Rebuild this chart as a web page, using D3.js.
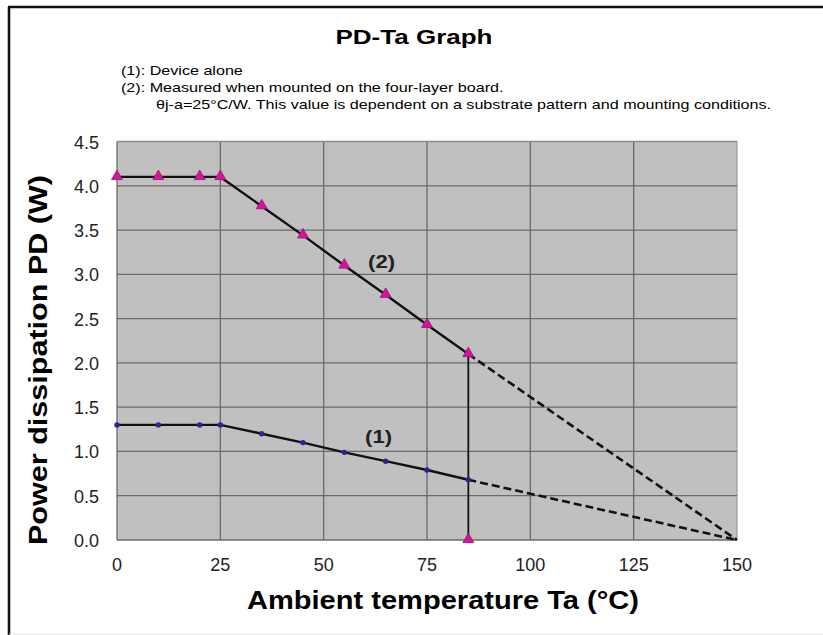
<!DOCTYPE html>
<html>
<head>
<meta charset="utf-8">
<script src="https://cdn.jsdelivr.net/npm/d3@7"></script>
<style>
  body { margin: 0; background: #fff; }
  text { font-family: Arial, "Liberation Sans", sans-serif; }
</style>
</head>
<body>
<svg id="chart" width="823" height="635"></svg>
<script>
// temperatures (°C) where the points sit
const ta = [0, 10, 20, 25, 35, 45, 55, 65, 75, 85];
// (2) four-layer board
const pd2 = [4.1, 4.1, 4.1, 4.1, 3.77, 3.44, 3.1, 2.77, 2.43, 2.1];
// (1) device alone
const pd1 = [1.3, 1.3, 1.3, 1.3, 1.2, 1.1, 0.99, 0.89, 0.79, 0.68];
// dashed derating to zero
const taEnd = [85, 150];
const pd2End = [2.1, 0];
const pd1End = [0.68, 0];
// marker at (85, 0) and the vertical line up to it
const markTa = 85;
const markPd = 0;

const xTicks = [0, 25, 50, 75, 100, 125, 150];
const yTicks = [0, 0.5, 1, 1.5, 2, 2.5, 3, 3.5, 4, 4.5];

const notes = [
  '(1): Device alone',
  '(2): Measured when mounted on the four-layer board.',
  '\u03b8j-a=25\u00b0C/W. This value is dependent on a substrate pattern and mounting conditions.'
];

const svg = d3.select('#chart');

const x = d3.scaleLinear().domain([0, 150]).range([117, 737]);
const y = d3.scaleLinear().domain([0, 4.5]).range([540, 141.5]);

// outer frame (left and top only)
svg.append('line').attr('x1', 9).attr('y1', 7).attr('x2', 9).attr('y2', 635)
  .attr('stroke', '#111').attr('stroke-width', 2.6);
svg.append('line').attr('x1', 8).attr('y1', 7).attr('x2', 823).attr('y2', 7)
  .attr('stroke', '#111').attr('stroke-width', 2.6);
svg.append('line').attr('x1', 9).attr('y1', 634).attr('x2', 823).attr('y2', 634)
  .attr('stroke', '#e4e4e4').attr('stroke-width', 1);

// fit a text to a given width (the source font is wider than Arial)
function fit(sel, w) {
  sel.attr('textLength', w).attr('lengthAdjust', 'spacingAndGlyphs');
}
function stretch(sel, k) {
  sel.each(function() {
    const w = this.getComputedTextLength();
    d3.select(this).attr('textLength', w * k).attr('lengthAdjust', 'spacingAndGlyphs');
  });
}

// title + notes
svg.append('text').attr('x', 414).attr('y', 44).attr('text-anchor', 'middle')
  .attr('font-size', 21).attr('font-weight', 'bold').text('PD-Ta Graph')
  .call(fit, 157);

const noteText = svg.selectAll('.note').data(notes).enter().append('text')
  .attr('class', 'note')
  .attr('x', (d, i) => i === 2 ? 156 : 121)
  .attr('y', (d, i) => 75 + i * 17)
  .attr('font-size', 13.5)
  .text(d => d);
const noteK = 615 / noteText.filter((d, i) => i === 2).node().getComputedTextLength();
noteText.call(stretch, noteK);

// plot background
svg.append('rect')
  .attr('x', x(0)).attr('y', y(4.5))
  .attr('width', x(150) - x(0)).attr('height', y(0) - y(4.5))
  .attr('fill', '#c0c0c0');

// grid
svg.append('g').selectAll('line').data(xTicks).enter().append('line')
  .attr('x1', d => x(d)).attr('x2', d => x(d))
  .attr('y1', y(4.5)).attr('y2', y(0))
  .attr('stroke', d => d === 150 ? '#a0a0a0' : '#6a6a6a').attr('stroke-width', 1.3);
svg.append('g').selectAll('line').data(yTicks).enter().append('line')
  .attr('x1', x(0)).attr('x2', x(150))
  .attr('y1', d => y(d)).attr('y2', d => y(d))
  .attr('stroke', d => d === 4.5 ? '#8c8c8c' : '#6a6a6a').attr('stroke-width', 1.3);

// tick labels
svg.append('g').selectAll('text').data(yTicks).enter().append('text')
  .attr('x', 99).attr('y', d => y(d) + 7)
  .attr('text-anchor', 'end').attr('font-size', 18).attr('fill', '#222')
  .text(d => d3.format('.1f')(d));
svg.append('g').selectAll('text').data(xTicks).enter().append('text')
  .attr('x', d => x(d)).attr('y', 571)
  .attr('text-anchor', 'middle').attr('font-size', 18).attr('fill', '#222')
  .text(d => d);

// axis titles
svg.append('text').attr('x', 443).attr('y', 609).attr('text-anchor', 'middle')
  .attr('font-size', 25).attr('font-weight', 'bold')
  .text('Ambient temperature Ta (\u00b0C)')
  .call(fit, 392);
svg.append('text')
  .attr('transform', 'translate(47,360) rotate(-90)')
  .attr('text-anchor', 'middle')
  .attr('font-size', 26).attr('font-weight', 'bold')
  .text('Power dissipation PD (W)')
  .call(fit, 370);

const line = d3.line().x(d => x(d[0])).y(d => y(d[1]));

// dashed extensions
[pd2End, pd1End].forEach(vals => {
  svg.append('path').datum(taEnd.map((t, i) => [t, vals[i]]))
    .attr('d', line).attr('fill', 'none')
    .attr('stroke', '#111').attr('stroke-width', 2.6)
    .attr('stroke-dasharray', '8,4');
});

// vertical line at 85
svg.append('path').datum([[markTa, markPd], [markTa, pd2[pd2.length - 1]]])
  .attr('d', line).attr('fill', 'none')
  .attr('stroke', '#111').attr('stroke-width', 1.8);

// solid curves
[pd2, pd1].forEach(vals => {
  svg.append('path').datum(ta.map((t, i) => [t, vals[i]]))
    .attr('d', line).attr('fill', 'none')
    .attr('stroke', '#111').attr('stroke-width', 2.4);
});

// markers (1)
svg.append('g').selectAll('circle').data(ta.map((t, i) => [t, pd1[i]])).enter()
  .append('circle')
  .attr('cx', d => x(d[0])).attr('cy', d => y(d[1])).attr('r', 2.7)
  .attr('fill', '#2a2590');

// markers (2)
const tri = d3.symbol().type(d3.symbolTriangle).size(52);
svg.append('g').selectAll('path')
  .data(ta.map((t, i) => [t, pd2[i]]).concat([[markTa, markPd]])).enter()
  .append('path')
  .attr('d', tri)
  .attr('transform', d => 'translate(' + x(d[0]) + ',' + (y(d[1]) - 0.5) + ')')
  .attr('fill', '#d4149a').attr('stroke', '#a01078').attr('stroke-width', 0.8);

// series labels
svg.append('text').attr('x', x(64)).attr('y', y(3.07)).attr('text-anchor', 'middle')
  .attr('font-size', 18).attr('font-weight', 'bold').attr('fill', '#222').text('(2)')
  .call(fit, 27);
svg.append('text').attr('x', x(63.3)).attr('y', y(1.09)).attr('text-anchor', 'middle')
  .attr('font-size', 18).attr('font-weight', 'bold').attr('fill', '#222').text('(1)')
  .call(fit, 27);
</script>
</body>
</html>
